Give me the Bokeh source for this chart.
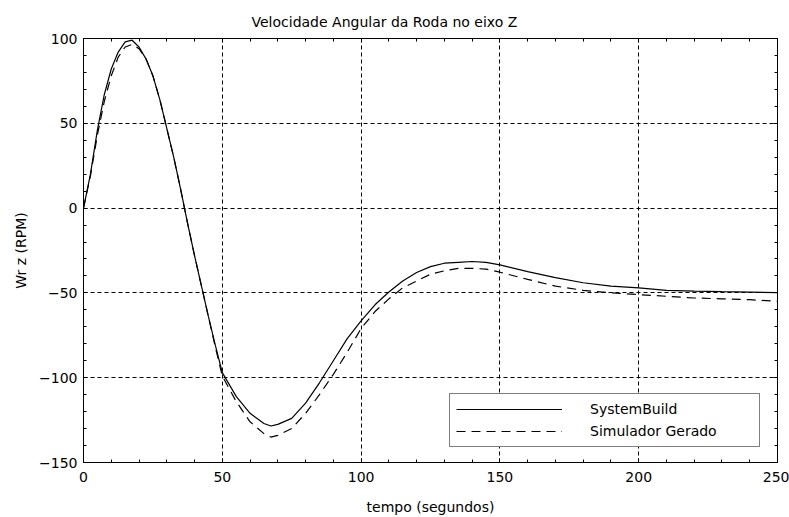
from bokeh.plotting import figure
from bokeh.models import (Range1d, LinearAxis, SingleIntervalTicker,
                          Legend, LegendItem, CustomJSTickFormatter)
from bokeh.embed import file_html
from bokeh.resources import INLINE

# ---- data ----
t = [0, 2.5, 5, 7.5, 10, 12.5, 15, 17.5, 20, 22.5, 25, 27.5, 30, 32.5, 35, 37.5,
     40, 42.5, 45, 47.5, 50, 55, 60, 65, 67.5, 70, 75, 80, 85, 90, 95, 100, 105,
     110, 115, 120, 125, 130, 135, 140, 145, 150, 160, 170, 180, 190, 200, 210,
     220, 230, 240, 250]
system_build = [0, 20, 46, 67, 82, 92, 98, 99, 95, 88, 78, 64, 47, 30, 11, -9,
                -28, -46, -64, -81, -97, -111, -121, -127, -128.5, -127.5, -124,
                -115, -103, -90, -77, -66.5, -57, -49.5, -43, -38, -34.5, -32.5,
                -32, -31.5, -32, -33.5, -37.5, -41, -44, -46, -47, -48.5, -49,
                -49.3, -49.5, -49.8]
simulador = [0, 19, 43, 63, 78, 89, 95, 96.5, 94, 88, 78, 64, 47, 30, 11, -9,
             -28, -46, -64, -82, -99, -114, -126, -133, -135, -134, -130, -121,
             -110, -98, -85, -71, -61, -53.5, -47, -43, -39, -37, -35.5, -35.5,
             -36, -37.8, -42, -46, -48.5, -50, -51, -52, -53, -53.5, -54, -55]

title_text = "Velocidade Angular da Roda no eixo Z"
x_label = "tempo (segundos)"
y_label = "Wr z (RPM)"
series_names = ["SystemBuild", "Simulador Gerado"]

FONT = "DejaVu Sans"

p = figure(frame_width=694, frame_height=424,
           output_backend="svg", toolbar_location=None,
           x_range=Range1d(0, 250), y_range=Range1d(-150, 100),
           min_border_left=83, min_border_right=12, min_border_top=38,
           min_border_bottom=55, x_axis_location=None, y_axis_location=None)
p.background_fill_color = "white"
p.border_fill_color = "white"
p.outline_line_color = "black"
p.outline_line_width = 1

p.title.text = title_text
p.title.text_font = FONT
p.title.text_font_size = "14px"
p.title.text_font_style = "normal"
p.title.text_color = "black"
p.title.align = "left"
p.title.offset = 168
p.title.standoff = 17

def make_axis(show_labels):
    ax = LinearAxis(ticker=SingleIntervalTicker(interval=50, num_minor_ticks=5))
    ax.axis_line_color = "black"
    ax.major_tick_line_color = "black"
    ax.minor_tick_line_color = "black"
    ax.major_tick_in = 4
    ax.major_tick_out = 0
    ax.minor_tick_in = 3
    ax.minor_tick_out = 0
    if show_labels:
        ax.major_label_text_font = FONT
        ax.major_label_text_font_size = "14px"
        ax.major_label_text_color = "black"
        ax.axis_label_text_font = FONT
        ax.axis_label_text_font_size = "14px"
        ax.axis_label_text_font_style = "normal"
        ax.axis_label_text_color = "black"
    else:
        ax.formatter = CustomJSTickFormatter(code="return ''")
        ax.major_label_standoff = 0
    return ax

xb = make_axis(True)
xb.axis_label = x_label
xb.major_label_standoff = 9
xb.axis_label_standoff = 14
p.add_layout(xb, "below")

yl = make_axis(True)
yl.axis_label = y_label
yl.major_label_standoff = 6
yl.axis_label_standoff = 7
p.add_layout(yl, "left")

p.add_layout(make_axis(False), "above")
p.add_layout(make_axis(False), "right")

p.xgrid.ticker = SingleIntervalTicker(interval=50)
p.ygrid.ticker = SingleIntervalTicker(interval=50)
for g in (p.xgrid, p.ygrid):
    g.grid_line_color = "black"
    g.grid_line_dash = "4 3"
    g.grid_line_width = 1

r1 = p.line(t, system_build, line_color="black", line_width=1.2)
r2 = p.line(t, simulador, line_color="black", line_width=1.2, line_dash="9 6")

legend = Legend(items=[LegendItem(label=series_names[0], renderers=[r1]),
                       LegendItem(label=series_names[1], renderers=[r2])],
                location=(366, 15), padding=6, spacing=4,
                glyph_width=106, glyph_height=18, label_height=18,
                label_width=163, label_standoff=28,
                label_text_font=FONT, label_text_font_size="14px",
                label_text_color="black",
                border_line_color="black", border_line_width=1,
                background_fill_color="white", background_fill_alpha=1)
p.add_layout(legend, "center")

open("out.html", "w").write(file_html(p, INLINE))
